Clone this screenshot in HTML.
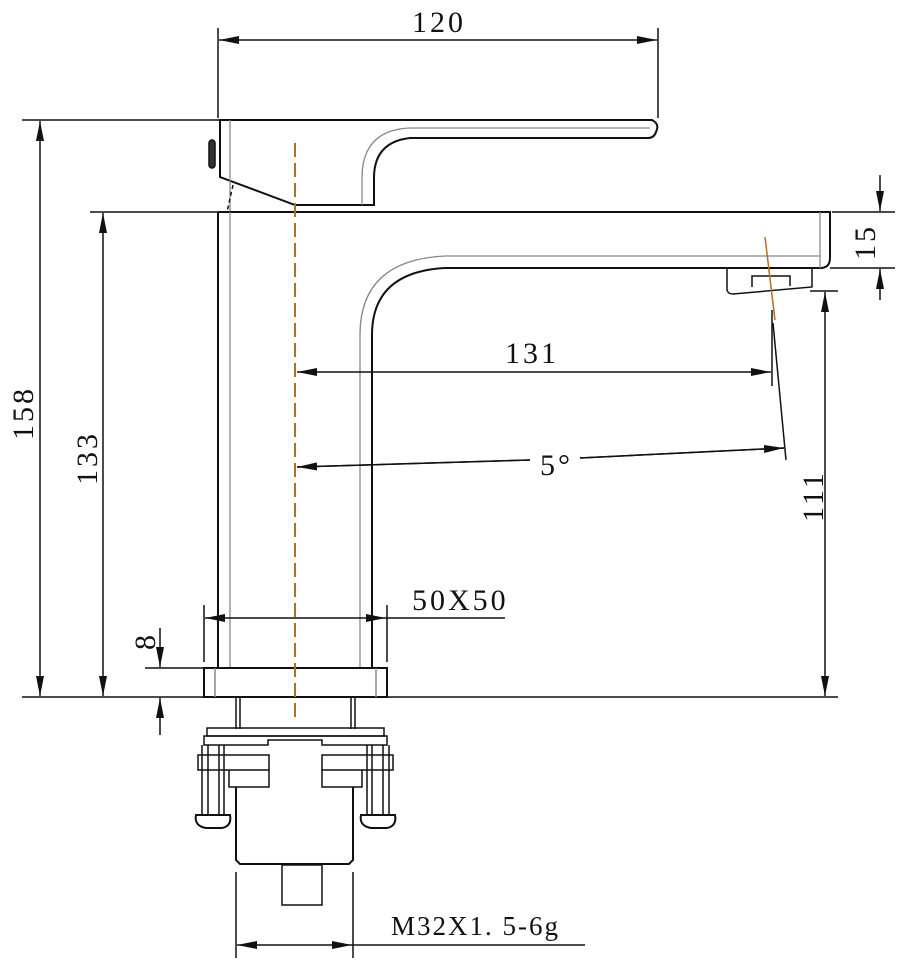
<!DOCTYPE html>
<html><head><meta charset="utf-8"><style>
html,body{margin:0;padding:0;background:#fff}
svg{display:block}
text{font-family:"Liberation Serif",serif;font-size:30px;fill:#111;letter-spacing:3px}
</style></head><body>
<svg width="902" height="962" viewBox="0 0 902 962" xmlns="http://www.w3.org/2000/svg">
<defs>
<marker id="a" viewBox="0 0 20 8" refX="20" refY="4" markerWidth="20" markerHeight="8" markerUnits="userSpaceOnUse" orient="auto-start-reverse"><path d="M0,0 L20,4 L0,8 Z" fill="#111"/></marker>
</defs>
<g stroke="#111" stroke-width="1.5" fill="none">
<!-- 120 dim -->
<line x1="218" y1="28" x2="218" y2="118"/><line x1="658" y1="28" x2="658" y2="118"/>
<line x1="219" y1="40" x2="657" y2="40" marker-start="url(#a)" marker-end="url(#a)"/>
<!-- 158 -->
<line x1="22" y1="120" x2="220" y2="120"/>
<line x1="40" y1="121" x2="40" y2="696" marker-start="url(#a)" marker-end="url(#a)"/>
<!-- 133 -->
<line x1="90" y1="212" x2="218" y2="212"/>
<line x1="103" y1="213" x2="103" y2="696" marker-start="url(#a)" marker-end="url(#a)"/>
<!-- bottom line -->
<line x1="22" y1="697" x2="838" y2="697"/>
<!-- handle -->
<path d="M220,120 H652 Q660,124 656,132 Q654,138 648,138 H410 Q374,142 374,178 V205 H295 L220,177 Z" stroke-width="2"/>
<path d="M230,120 V212 M410,128 H650 M410,128 Q362,130 362,178 V205" stroke="#888" stroke-width="1.3"/>
<rect x="209" y="140" width="6" height="28" rx="3" fill="#333"/>
<path d="M233,185 L227,212" stroke-dasharray="4,3"/>
<!-- body & spout -->
<path d="M218,212 H830 V258 Q830,268 820,268 H445 Q372,272 372,335 V668" stroke-width="2"/>
<line x1="218" y1="212" x2="218" y2="668" stroke-width="2"/>
<path d="M230,212 V668 M820,212 V268 M445,256 H820 M445,256 Q360,260 360,335 V668" stroke="#888" stroke-width="1.3"/>
<!-- aerator -->
<path d="M727,268 V290 Q728,294 733,294 L812,287 V268" />
<path d="M752,287 V276 H790 V286" />
<!-- 15 dim -->
<line x1="832" y1="212" x2="895" y2="212"/><line x1="830" y1="268" x2="895" y2="268"/>
<line x1="880" y1="175" x2="880" y2="211" marker-end="url(#a)"/>
<line x1="880" y1="300" x2="880" y2="269" marker-end="url(#a)"/>
<!-- 111 dim -->
<line x1="810" y1="291" x2="838" y2="291"/>
<line x1="825" y1="292" x2="825" y2="696" marker-start="url(#a)" marker-end="url(#a)"/>
<!-- 131 -->
<line x1="772" y1="310" x2="772" y2="386"/>
<line x1="297" y1="372" x2="771" y2="372" marker-start="url(#a)" marker-end="url(#a)"/>
<!-- 5deg -->
<line x1="773" y1="323" x2="786" y2="460"/>
<path d="M297,467 L530,460 M580,458 L784,448" />
<path d="M297,467 L530,460" marker-start="url(#a)"/>
<path d="M580,458 L784,448" marker-end="url(#a)"/>
<!-- base plate -->
<rect x="204" y="668" width="183" height="29" stroke-width="2"/>
<path d="M215,668 V697 M376,668 V697" stroke="#888"/>
<!-- 50x50 -->
<line x1="204" y1="605" x2="204" y2="662"/><line x1="387" y1="605" x2="387" y2="662"/>
<line x1="205" y1="618" x2="386" y2="618" marker-start="url(#a)" marker-end="url(#a)"/>
<line x1="386" y1="618" x2="505" y2="618"/>
<!-- 8 -->
<line x1="145" y1="668" x2="204" y2="668"/>
<line x1="160" y1="628" x2="160" y2="667" marker-end="url(#a)"/>
<line x1="160" y1="735" x2="160" y2="698" marker-end="url(#a)"/>
<!-- mount -->
<path d="M236,697 V729 M240,697 V729 M351,697 V729 M355,697 V729"/>
<rect x="207" y="728" width="177" height="8"/>
<path d="M204,736 H387 V745 H322 V740 H268 V745 H204 Z"/>
<rect x="198" y="755" width="71" height="15"/>
<rect x="322" y="755" width="71" height="15"/>
<path d="M229,770 V787 H269 V770 M322,770 V787 H362 V770"/>
<path d="M236,787 V860 L240,864 H349 L353,860 V787" stroke-width="2"/>
<path d="M202,745 V815 M208,745 V815 M219,745 V815 M224,745 V815 M367,745 V815 M372,745 V815 M383,745 V815 M389,745 V815"/>
<path d="M196,815 Q194,826 206,828 H222 Q232,826 230,815 Z M361,815 Q359,826 371,828 H387 Q397,826 395,815 Z" stroke-width="2"/>
<rect x="282" y="865" width="40" height="40"/>
<!-- M32 -->
<line x1="236" y1="872" x2="236" y2="958"/><line x1="353" y1="872" x2="353" y2="958"/>
<line x1="237" y1="945" x2="352" y2="945" marker-start="url(#a)" marker-end="url(#a)"/>
<line x1="352" y1="945" x2="585" y2="945"/>
</g>
<!-- centerline -->
<line x1="295" y1="143" x2="295" y2="720" stroke="#b0702a" stroke-width="2" stroke-dasharray="14,6"/>
<line x1="765" y1="237" x2="775" y2="320" stroke="#b0702a" stroke-width="1.5"/>
<!-- labels -->
<text x="412" y="32">120</text>
<text x="505" y="363">131</text>
<text x="540" y="475">5°</text>
<text x="412" y="610">50X50</text>
<text x="391" y="935" style="font-size:27px;letter-spacing:2px">M32X1. 5-6g</text>
<text transform="translate(33,440) rotate(-90)">158</text>
<text transform="translate(97,485) rotate(-90)">133</text>
<text transform="translate(823,522) rotate(-90)">111</text>
<text transform="translate(875,260) rotate(-90)">15</text>
<text transform="translate(155,650) rotate(-90)">8</text>
</svg>
</body></html>
